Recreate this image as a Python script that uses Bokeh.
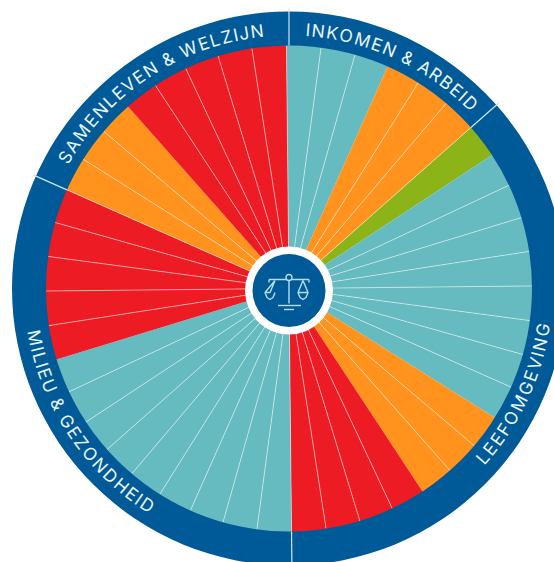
import math
from bokeh.plotting import figure
from bokeh.embed import file_html
from bokeh.resources import INLINE
from bokeh.core.properties import value

# Wheel data: clockwise from the top, one colour code per equal slice
T, O, G, R = "#66BBC0", "#FF931E", "#8CB317", "#ED1C24"
slice_groups = [(T, 3), (O, 3), (G, 1), (T, 8), (O, 3), (R, 4),
                (T, 9), (R, 5), (O, 3), (R, 5)]
section_names = ["INKOMEN & ARBEID", "LEEFOMGEVING", "MILIEU & GEZONDHEID", "SAMENLEVEN & WELZIJN"]
section_slices = [6, 16, 14, 8]
label_from = [3.6, 132.4, 261.0, 299.0]
label_to = [46.0, 97.6, 211.6, 354.6]
label_radius = [259.5, 257.0, 258.5, 259.5]
BLUE = "#005A97"
W, H = 554, 562
CX, CY = 288.5, 288.0
R_OUT, R_IN, R_HUB_W, R_HUB_B = 277, 243, 44, 36.5
HUB_DY = -2.0
ROT = -0.6

EM = dict(zip("ABCDEFGHIJKLMNOPQRSTUVWXYZ& ",
              [.68,.66,.71,.74,.60,.58,.74,.75,.28,.55,.65,.56,.90,.75,.78,.63,.78,.65,.64,.63,.74,.68,.98,.67,.66,.64,.70,.28]))

p = figure(width=W, height=H, x_range=(-CX, W - CX), y_range=(-(H - CY), CY),
           toolbar_location=None, output_backend="svg", min_border=0, outline_line_color=None,
           background_fill_color="white")
p.axis.visible = False
p.grid.visible = False

n = sum(c for _, c in slice_groups)
step = 360 / n
colors = [c for c, k in slice_groups for _ in range(k)]
ang = lambda d: math.radians(90 - d)  # clockwise-from-top degrees to maths radians

# Slices
st = [ang(ROT + (i + 1) * step) for i in range(n)]
en = [ang(ROT + i * step) for i in range(n)]
p.wedge(x=0, y=0, radius=R_IN + 1, start_angle=st, end_angle=en, fill_color=colors,
        line_color=None)

# Section boundaries (slice index)
bounds, cum = [], 0
for c in section_slices:
    bounds.append(cum)
    cum += c

# Thin spokes between slices of one colour, and on section boundaries
sx, sy = [], []
for i in range(n):
    if colors[i] == colors[i - 1] or i in bounds:
        a = math.radians(ROT + i * step)
        sx.append([0, R_IN * math.sin(a)])
        sy.append([0, R_IN * math.cos(a)])
p.multi_line(sx, sy, line_color="#ffffff", line_alpha=0.55, line_width=0.9)

# Outer ring
p.annular_wedge(x=0, y=0, inner_radius=R_IN, outer_radius=R_OUT, start_angle=0, end_angle=2 * math.pi,
                fill_color=BLUE, line_color=None)
# Section dividers in the ring
dx, dy = [], []
for b in bounds:
    a = math.radians((ROT if b else 0) + b * step)
    dx.append([R_IN * math.sin(a), (R_OUT + 3) * math.sin(a)])
    dy.append([R_IN * math.cos(a), (R_OUT + 3) * math.cos(a)])
p.multi_line(dx, dy, line_color="#cfe8f2", line_width=1.2)

# Curved labels, one letter at a time
tx, ty, tt, tr = [], [], [], []
for name, a0, a1, r in zip(section_names, label_from, label_to, label_radius):
    w = [EM[c] for c in name]
    total = sum(w)
    pos = 0
    for c, cw in zip(name, w):
        th = a0 + (a1 - a0) * (pos + cw / 2) / total
        pos += cw
        if c == " ":
            continue
        t = math.radians(th)
        tx.append(r * math.sin(t))
        ty.append(r * math.cos(t))
        tt.append(c)
        tr.append(-t if a1 > a0 else math.pi - t)
p.text(tx, ty, text=tt, angle=tr, text_align="center", text_baseline="alphabetic",
       text_color="#e8f5f9", text_font=value("Inter"), text_font_size="17.5px")

# Hub
p.scatter([0], [HUB_DY], size=2 * R_HUB_W, marker="circle", fill_color="white", line_color=None)
p.scatter([0], [HUB_DY], size=2 * R_HUB_B, marker="circle", fill_color=BLUE, line_color=None)

# Scales icon
IC = "#b5deea"
ix = [[-20, 20], [-20, -20], [20, 20], [0, 0], [-11, 12], [-5, 5],
      [-14, -19, -24, -14], [14, 9, 19, 14]]
iy = [[11, 11], [11, 8], [11, 8], [14, -13], [-15, -15], [-19, -19],
      [10, -2, -2, 10], [10, -2, -2, 10]]
p.multi_line(ix, [[v + HUB_DY for v in r] for r in iy], line_color=IC, line_width=1.4)
p.multi_line([[-24, -22, -19, -16, -14], [9, 11, 14, 17, 19]],
             [[-2 + HUB_DY, -7 + HUB_DY, -9 + HUB_DY, -7 + HUB_DY, -2 + HUB_DY]] * 2,
             line_color=IC, line_width=1.4)
p.scatter([0], [13 + HUB_DY], size=6, marker="circle", fill_color=BLUE, line_color=IC, line_width=1.3)

open("out.html", "w").write(file_html(p, INLINE))
